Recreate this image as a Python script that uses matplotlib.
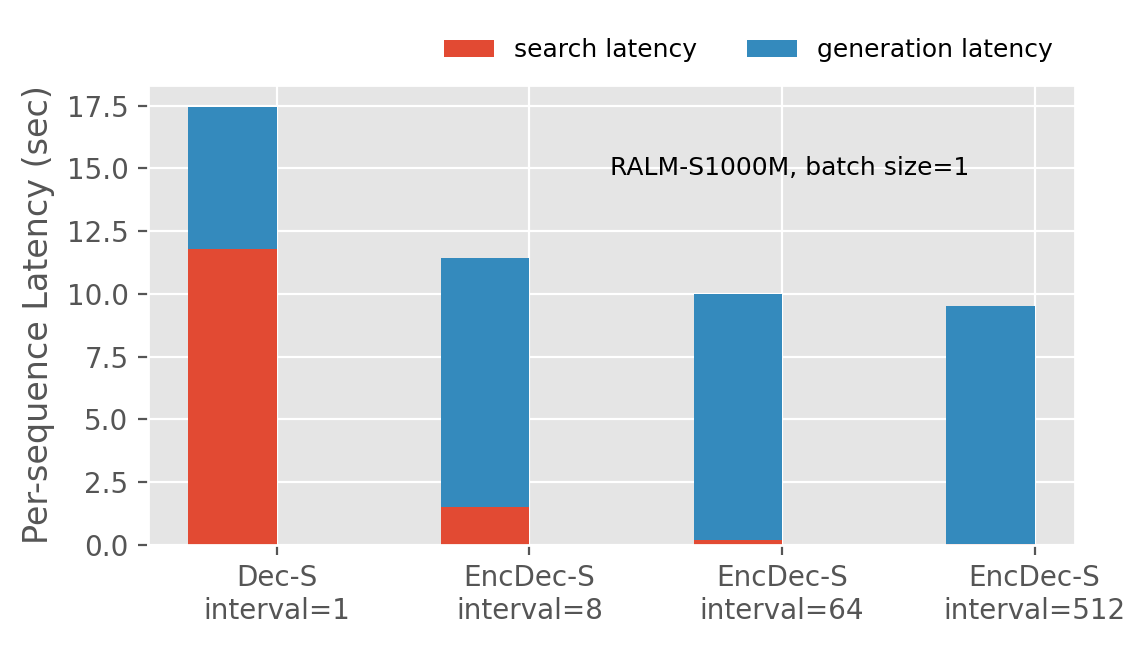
import matplotlib
matplotlib.use('Agg')
import matplotlib.pyplot as plt
import numpy as np

plt.style.use('ggplot')

labels = ['Dec-S\ninterval=1', 'EncDec-S\ninterval=8', 'EncDec-S\ninterval=64', 'EncDec-S\ninterval=512']
search = [11.8, 1.5, 0.2, 0.02]
generation = [5.65, 9.95, 9.8, 9.48]

fig = plt.figure(figsize=(5.72, 3.225), dpi=200)
ax = fig.add_axes([148/1144, 1-545/645, (1075-148)/1144, (545-85)/645])
x = np.arange(len(labels))
w = 0.35
ax.bar(x, search, -w, align='edge', color='#E24A33', label='search latency')
ax.bar(x, generation, -w, align='edge', bottom=search, color='#348ABD', label='generation latency')
ax.set_xticks(x)
ax.set_xticklabels(labels)
ax.set_xlim(-0.51, 3.16)
ax.set_ylabel('Per-sequence Latency (sec)')
ax.text(1.32, 15.0, 'RALM-S1000M, batch size=1', fontsize=9, va='center')
ax.legend(loc='lower right', bbox_to_anchor=(1.0, 1.0), ncol=2, frameon=False, fontsize=9)
fig.savefig('out.png', dpi=200)
